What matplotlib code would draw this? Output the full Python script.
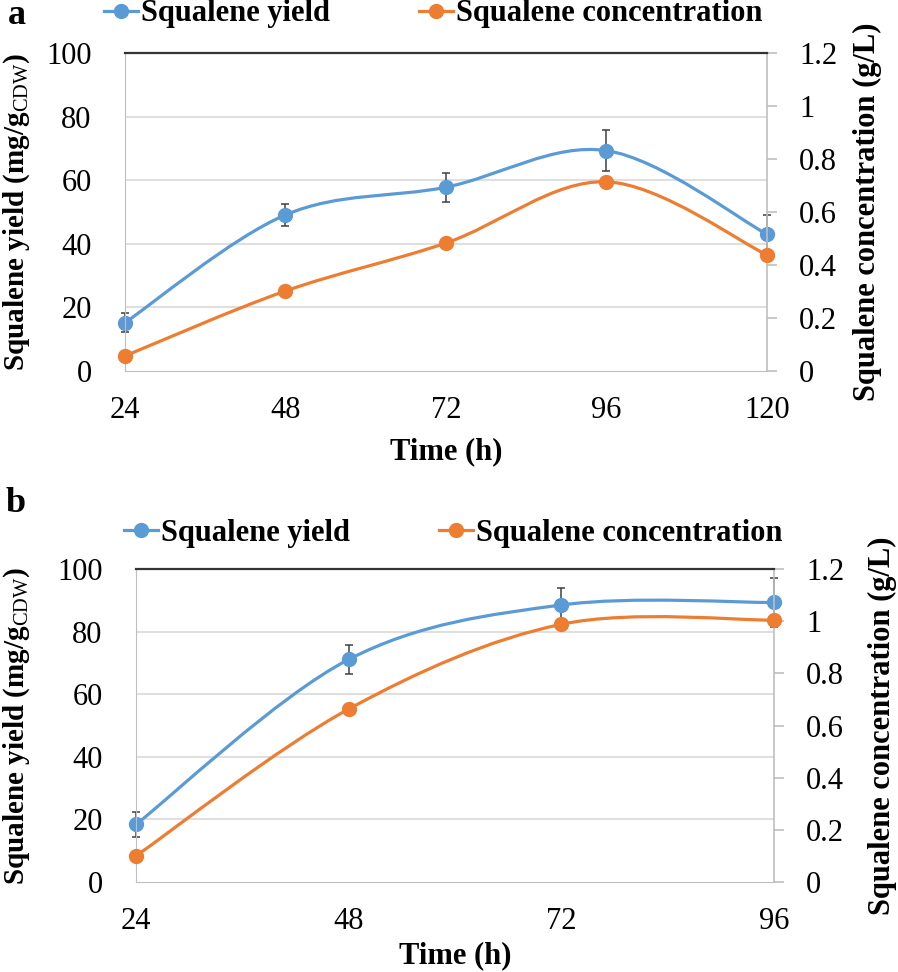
import matplotlib
matplotlib.use('Agg')
import matplotlib.pyplot as plt
from matplotlib.path import Path
from matplotlib.patches import PathPatch
from matplotlib.lines import Line2D

plt.rcParams['font.family'] = ['Liberation Serif', 'DejaVu Serif']
plt.rcParams['mathtext.fontset'] = 'custom'
plt.rcParams['mathtext.rm'] = 'Liberation Serif'
plt.rcParams['mathtext.bf'] = 'Liberation Serif:bold'

# panel a
time_a = [24, 48, 72, 96, 120]
yield_a = [15.2, 49.1, 57.8, 69.3, 43.0]
yield_err_a = [2.9, 3.5, 4.6, 6.5, 6.0]
conc_a = [0.057, 0.302, 0.483, 0.714, 0.438]

# panel b
time_b = [24, 48, 72, 96]
yield_b = [18.4, 71.1, 88.5, 89.3]
yield_err_b = [4.0, 4.6, 5.5, 7.7]
conc_b = [0.10, 0.663, 0.988, 1.004]

BLUE = '#5B9BD5'
ORANGE = '#ED7D31'
GRID = '#d9d9d9'
SPINE = '#bfbfbf'

W, H = 898, 972
FS = 22


def smooth_path(x, y):
    # Excel-like smoothed line (Catmull-Rom as cubic Bezier segments)
    n = len(x)
    verts = [(x[0], y[0])]
    codes = [Path.MOVETO]
    for i in range(n - 1):
        x0, y0 = (x[i - 1], y[i - 1]) if i > 0 else (x[i], y[i])
        x3, y3 = (x[i + 2], y[i + 2]) if i + 2 < n else (x[i + 1], y[i + 1])
        c1 = (x[i] + (x[i + 1] - x0) / 6, y[i] + (y[i + 1] - y0) / 6)
        c2 = (x[i + 1] - (x3 - x[i]) / 6, y[i + 1] - (y3 - y[i]) / 6)
        verts += [c1, c2, (x[i + 1], y[i + 1])]
        codes += [Path.CURVE4] * 3
    return Path(verts, codes)


def panel(rect, t, yld, err, conc, letter, letter_xy, leg_y, leg_x, colspace, rlab_x, xpad):
    l, b, r, tp = rect
    ax = fig.add_axes([l / W, 1 - b / H, (r - l) / W, (b - tp) / H])
    ax2 = ax.twinx()

    ax.set_xlim(t[0], t[-1])
    ax.set_ylim(0, 100)
    ax.set_yticks([0, 20, 40, 60, 80, 100])
    ax.set_xticks(t)
    ax2.set_ylim(0, 1.2)
    ax2.set_yticks([0, 0.2, 0.4, 0.6, 0.8, 1.0, 1.2])
    ax2.set_yticklabels(['0', '0.2', '0.4', '0.6', '0.8', '1', '1.2'])

    for v in [20, 40, 60, 80]:
        ax.axhline(v, color=GRID, lw=1.2, zorder=0)

    for s in ['left', 'bottom', 'right', 'top']:
        ax.spines[s].set_visible(False)
    ax2.spines['left'].set_color(SPINE)
    ax2.spines['bottom'].set_color(SPINE)
    ax2.spines['right'].set_color(SPINE)
    ax2.spines['right'].set_linewidth(1.2)
    ax2.spines['top'].set_color('#333333')
    ax2.spines['top'].set_linewidth(1.6)

    ax.tick_params(axis='y', length=0, pad=24, labelsize=FS)
    ax.tick_params(axis='x', length=0, pad=18, labelsize=FS)
    ax2.tick_params(axis='y', length=7, width=1.2, color=SPINE, pad=16, labelsize=FS)

    ax.add_patch(PathPatch(smooth_path(t, yld), fill=False, edgecolor=BLUE, lw=2.3, zorder=2))
    ax.errorbar(t, yld, yerr=err, fmt='none', ecolor='#404040', elinewidth=1.1,
                capsize=3, capthick=1.1, zorder=3, clip_on=False)
    ax.plot(t, yld, 'o', color=BLUE, ms=10, zorder=4, clip_on=False)

    ax2.add_patch(PathPatch(smooth_path(t, conc), fill=False, edgecolor=ORANGE, lw=2.3, zorder=2))
    ax2.plot(t, conc, 'o', color=ORANGE, ms=10, zorder=4, clip_on=False)

    ax.set_xlabel('Time (h)', fontsize=FS, fontweight='bold', labelpad=xpad)
    ax.set_ylabel(r'Squalene yield (mg/g$_{\mathrm{CDW}}$)', fontsize=21, fontweight='bold')
    ax.yaxis.set_label_coords(-(l - 32) / (r - l), 0.5)
    ax2.set_ylabel('Squalene concentration (g/L)', fontsize=FS, fontweight='bold')
    ax2.yaxis.set_label_coords(1 + (rlab_x - r) / (r - l), 0.5)

    handles = [Line2D([], [], color=BLUE, lw=2.3, marker='o', ms=10),
               Line2D([], [], color=ORANGE, lw=2.3, marker='o', ms=10)]
    fig.legend(handles, ['Squalene yield', 'Squalene concentration'], ncol=2,
               loc='center left', bbox_to_anchor=(leg_x / W, 1 - leg_y / H),
               frameon=False, handlelength=1.1, handletextpad=0.12,
               columnspacing=colspace, borderpad=0, borderaxespad=0,
               prop={'size': FS, 'weight': 'bold'})

    fig.text(letter_xy[0] / W, 1 - letter_xy[1] / H, letter, fontsize=26,
             fontweight='bold', ha='left', va='center')


fig = plt.figure(figsize=(W / 100, H / 100), dpi=100)

panel((125, 371, 767, 53), time_a, yield_a, yield_err_a, conc_a,
      'a', (8, 16), 14, 104, 2.9, 853, 9)
panel((136, 882, 774, 569), time_b, yield_b, yield_err_b, conc_b,
      'b', (6, 503), 533, 124, 2.9, 868, 4)

fig.savefig('out.png', dpi=100)
